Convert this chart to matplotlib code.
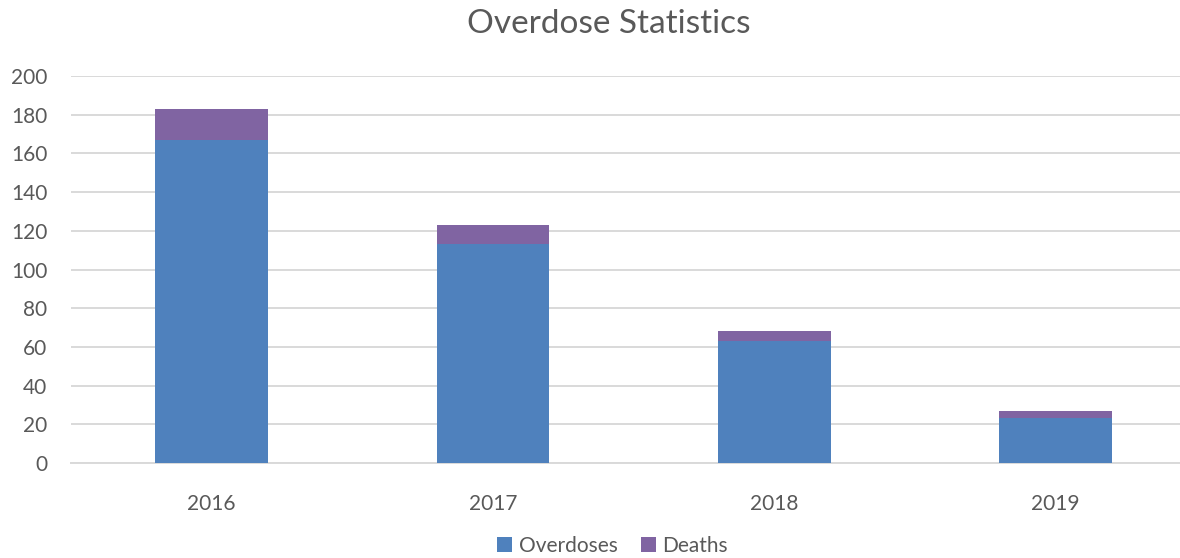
import numpy as np
import matplotlib.pyplot as plt

plt.rcParams['font.family'] = ['Lato', 'DejaVu Sans']

years = ['2016', '2017', '2018', '2019']
overdoses = [167, 113, 63, 23]
deaths = [16, 10, 5, 4]

fig = plt.figure(figsize=(11.8, 5.58), dpi=100)
ax = fig.add_axes([71/1180, 1 - 463/558, 1 - 71/1180, 387/558])

x = np.arange(len(years))
ax.bar(x, overdoses, width=0.4, color='#4f81bd', label='Overdoses', zorder=3)
ax.bar(x, deaths, width=0.4, bottom=overdoses, color='#8064a2', label='Deaths', zorder=3)

ax.set_xlim(-0.5, 3.442)
ax.set_ylim(0, 200)
ax.set_yticks(np.arange(0, 201, 20))
ax.set_xticks(x)
ax.set_xticklabels(years)

ax.grid(axis='y', color='#d9d9d9', linewidth=1.4, zorder=0)
for s in ['top', 'right', 'left']:
    ax.spines[s].set_visible(False)
ax.spines['bottom'].set_color('#d9d9d9')
ax.spines['bottom'].set_linewidth(1.4)
ax.tick_params(length=0, labelsize=15, labelcolor='#595959')
ax.tick_params(axis='x', pad=22)
ax.tick_params(axis='y', pad=17)

fig.suptitle('Overdose Statistics', fontsize=24, color='#595959', x=0.516, y=0.983)

fig.legend(loc='lower center', bbox_to_anchor=(0.519, -0.03), ncol=2, frameon=False,
           fontsize=15, labelcolor='#595959', handlelength=0.75, handleheight=0.75,
           handletextpad=0.3, columnspacing=1.1)

fig.savefig('out.png')
